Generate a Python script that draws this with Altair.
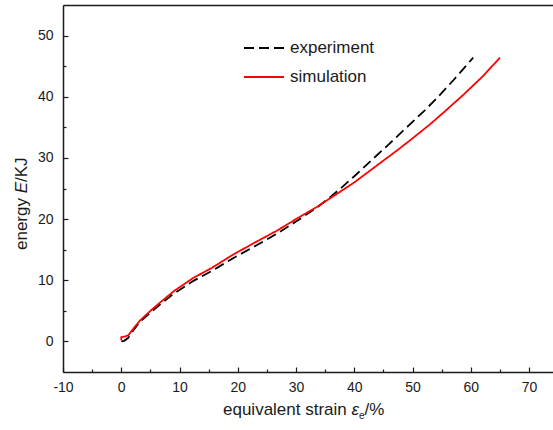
import altair as alt
import pandas as pd

# ---- data ----
series_names = ["experiment", "simulation"]

exp_x = [0, 0.5, 1.2, 2, 3.2, 5, 6.6, 9, 12.4, 15.5, 19.2, 23, 26.7, 30, 33.6, 36, 38, 40,
         42.7, 46, 49, 52, 54.2, 57, 60.4]
exp_y = [0, 0.1, 0.6, 1.7, 3.2, 4.7, 6.0, 7.8, 9.9, 11.5, 13.6, 15.6, 17.6, 19.6, 21.9, 23.7,
         25.3, 27.0, 29.4, 32.3, 35.0, 37.7, 39.8, 42.7, 46.4]

sim_x = [0, 0, 0.6, 1.2, 2, 3.2, 5, 6.6, 9, 12.4, 15.5, 19.2, 23, 26.7, 30, 33.6, 36, 40,
         43.5, 47.3, 50, 53, 56, 58.8, 62, 65]
sim_y = [0.2, 0.7, 0.8, 1.0, 2.0, 3.4, 5.0, 6.3, 8.2, 10.4, 12.0, 14.2, 16.2, 18.1, 20.0,
         22.0, 23.5, 26.0, 28.5, 31.2, 33.2, 35.5, 38.0, 40.4, 43.3, 46.4]

x_major = [-10, 0, 10, 20, 30, 40, 50, 60, 70]
x_minor = [-5, 5, 15, 25, 35, 45, 55, 65]
y_major = [0, 10, 20, 30, 40, 50]
y_minor = [5, 15, 25, 35, 45]

rows = []
for i, (a, b) in enumerate(zip(exp_x, exp_y)):
    rows.append({"x": a, "y": b, "series": "experiment", "order": i})
for i, (a, b) in enumerate(zip(sim_x, sim_y)):
    rows.append({"x": a, "y": b, "series": "simulation", "order": i})
df = pd.DataFrame(rows)

# ---- layout ----
W, H = 490, 367
FONT = "Liberation Sans"
AX = "#1a1a1a"
xs = alt.Scale(domain=[-10, 74.1], nice=False, zero=False)
ys = alt.Scale(domain=[-5, 55], nice=False, zero=False)

legend = alt.Legend(
    title=None, orient="none", legendX=180, legendY=22,
    symbolType="stroke", symbolSize=1600, symbolStrokeWidth=2,
    labelFontSize=17, labelFont=FONT, labelColor=AX, labelOffset=5,
    rowPadding=0, padding=0,
)

LBL = "replace(datum.label, '\u2212', '-')"

lines = alt.Chart(df).mark_line(strokeWidth=1.8).encode(
    x=alt.X("x:Q", scale=xs, axis=alt.Axis(
        orient="bottom", values=x_major, ticks=False, domain=True,
        domainColor=AX, domainWidth=1.5, labelFontSize=14, labelFont=FONT,
        labelColor=AX, labelPadding=8, grid=False, title=None, labelFlush=False,
        labelExpr=LBL)),
    y=alt.Y("y:Q", scale=ys, axis=alt.Axis(
        orient="left", values=y_major, ticks=False, domain=True,
        domainColor=AX, domainWidth=1.5, labelFontSize=14, labelFont=FONT,
        labelColor=AX, labelPadding=10, grid=False, title=None, labelFlush=False)),
    color=alt.Color("series:N", scale=alt.Scale(domain=series_names,
                                                range=["#000000", "#ff0000"]),
                    legend=legend),
    strokeDash=alt.StrokeDash("series:N", scale=alt.Scale(domain=series_names,
                                                          range=[[10, 5], [1, 0]]),
                              legend=legend),
    order="order:Q",
)

ghost = alt.Chart(df).mark_point(opacity=0)


def tick_layer(xv, yv, size):
    return ghost.encode(
        x=alt.X("x:Q", scale=xs, axis=alt.Axis(
            orient="top", offset=-H, values=xv, tickSize=size, tickWidth=1.2,
            tickColor=AX, labels=False, domain=False, grid=False, title=None)),
        y=alt.Y("y:Q", scale=ys, axis=alt.Axis(
            orient="right", offset=-W, values=yv, tickSize=size, tickWidth=1.2,
            tickColor=AX, labels=False, domain=False, grid=False, title=None)),
    )


major = tick_layer(x_major, y_major, 5)
minor = tick_layer(x_minor, y_minor, 3)

frame = ghost.encode(
    x=alt.X("x:Q", scale=xs, axis=alt.Axis(
        orient="top", values=x_major, ticks=False, labels=False, domain=True,
        domainColor=AX, domainWidth=1.5, grid=False, title=None)),
    y=alt.Y("y:Q", scale=ys, axis=None),
)

# ---- titles (mixed styles) ----
one = pd.DataFrame({"k": [0]})
TS = 17
xt_y = 410
x0 = 160
w_main = 7.559 * TS
seg = []
seg.append(alt.Chart(one).mark_text(text="equivalent strain ", align="left", baseline="alphabetic",
                                    font=FONT, fontSize=TS, color=AX)
           .encode(x=alt.value(x0), y=alt.value(xt_y)))
seg.append(alt.Chart(one).mark_text(text="ε", align="left", baseline="alphabetic",
                                    font=FONT, fontSize=TS, fontStyle="italic", color=AX)
           .encode(x=alt.value(x0 + w_main), y=alt.value(xt_y)))
seg.append(alt.Chart(one).mark_text(text="e", align="left", baseline="alphabetic",
                                    font=FONT, fontSize=10, color=AX)
           .encode(x=alt.value(x0 + w_main + 7.5), y=alt.value(xt_y + 4)))
seg.append(alt.Chart(one).mark_text(text="/%", align="left", baseline="alphabetic",
                                    font=FONT, fontSize=TS, color=AX)
           .encode(x=alt.value(x0 + w_main + 13), y=alt.value(xt_y)))

yt_x = -36
yt_y0 = 245
seg.append(alt.Chart(one).mark_text(text="energy ", align="left", baseline="alphabetic",
                                    angle=270, font=FONT, fontSize=TS, color=AX)
           .encode(x=alt.value(yt_x), y=alt.value(yt_y0)))
seg.append(alt.Chart(one).mark_text(text="E", align="left", baseline="alphabetic",
                                    angle=270, font=FONT, fontSize=TS, fontStyle="italic", color=AX)
           .encode(x=alt.value(yt_x), y=alt.value(yt_y0 - 3.335 * TS)))
seg.append(alt.Chart(one).mark_text(text="/KJ", align="left", baseline="alphabetic",
                                    angle=270, font=FONT, fontSize=TS, color=AX)
           .encode(x=alt.value(yt_x), y=alt.value(yt_y0 - 4.002 * TS)))

chart = alt.layer(frame, minor, major, lines, *seg).resolve_axis(
    x="independent", y="independent"
).properties(
    width=W, height=H,
    autosize=alt.AutoSizeParams(type="none"),
    padding={"left": 63, "top": 5, "right": 0, "bottom": 58},
).configure_view(stroke=None).configure(background="white")

chart.save("out.html", embed_options={"renderer": "svg", "actions": False})
